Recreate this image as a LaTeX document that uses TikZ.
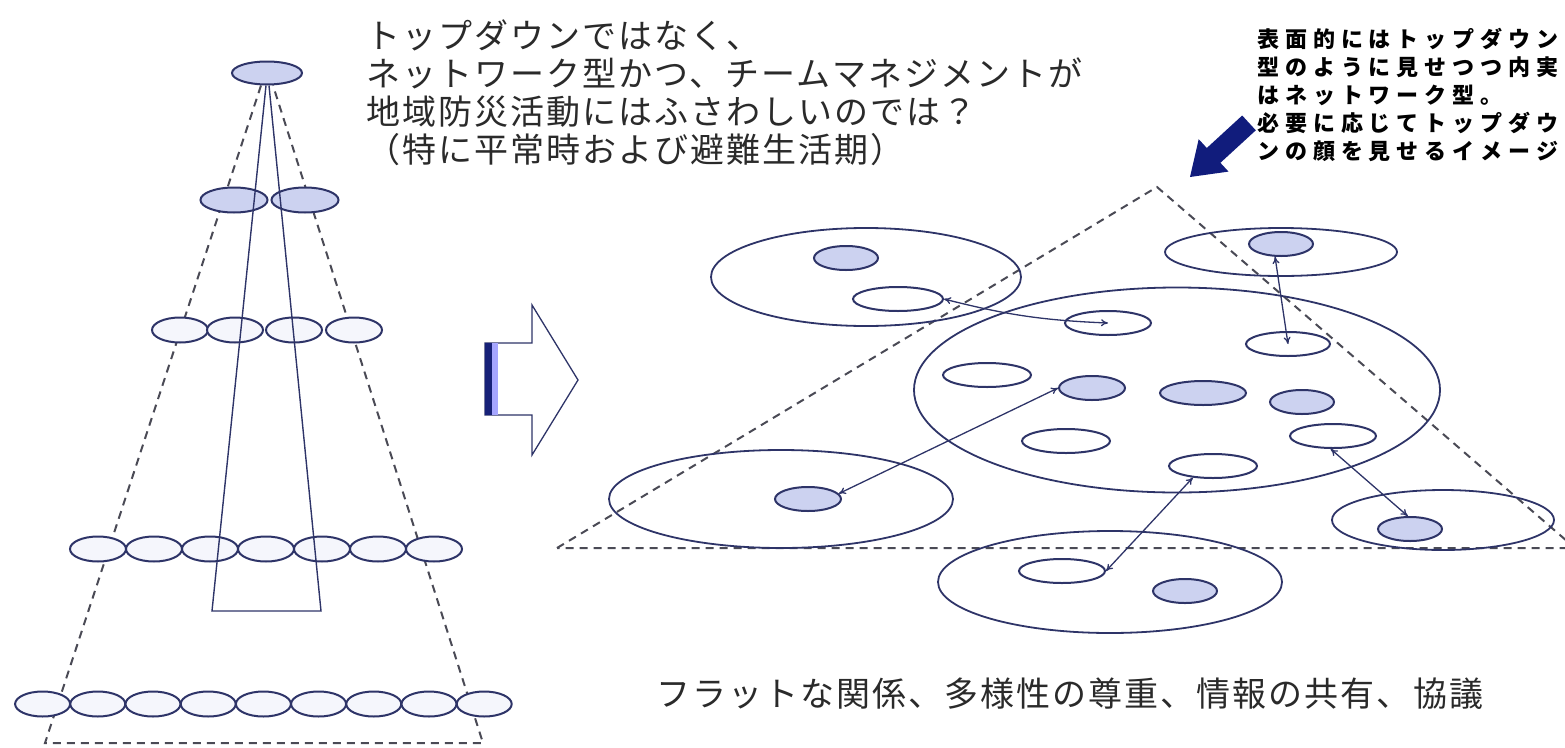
\documentclass[tikz,border=0pt]{standalone}
\usepackage{fontspec}
\usepackage{tikz}
\usetikzlibrary{positioning}
\usetikzlibrary{shapes,shapes.geometric,arrows.meta,backgrounds}
\newfontfamily\jpmain[LetterSpace=6]{Noto Sans CJK JP}
\newfontfamily\jpnote[LetterSpace=27]{Noto Sans CJK JP}
\definecolor{navy}{HTML}{2E3468}
\definecolor{paleblue}{HTML}{CCD2F0}
\definecolor{palewhite}{HTML}{F5F6FC}
\definecolor{dashgray}{HTML}{4A4A55}
\definecolor{inkblue}{HTML}{111C7C}
\definecolor{textgray}{HTML}{2A2A2A}
\tikzstyle{leader} = [ellipse, draw=navy, line width=2pt, fill=paleblue, inner sep=0pt]
\tikzstyle{member} = [ellipse, draw=navy, line width=2pt, fill=palewhite, inner sep=0pt, minimum width=56pt, minimum height=25pt]
\tikzstyle{group}  = [ellipse, draw=navy, line width=1.8pt, inner sep=0pt]
\tikzstyle{person} = [ellipse, draw=navy, line width=2pt, fill=white, inner sep=0pt, minimum height=24pt]
\tikzstyle{face}   = [ellipse, draw=navy, line width=2pt, fill=paleblue, inner sep=0pt, minimum height=24pt]
\tikzstyle{guide}  = [draw=dashgray, line width=2pt, dash pattern=on 8pt off 6pt]
\tikzstyle{stem}   = [draw=navy, line width=1.4pt]
\tikzstyle{link}   = [draw=navy, line width=1.3pt, {To[length=7pt,width=7pt]}-{To[length=7pt,width=7pt]}]

\begin{document}
\begin{tikzpicture}[x=1pt, y=-1pt]
	\useasboundingbox (0,0) rectangle (1565,747);

	% hierarchy on the left
	\node [leader, minimum width=70pt, minimum height=23pt] (top) at (267,73) {};
	\node [leader, minimum width=67pt, minimum height=25pt] (sub1) at (234,200) {};
	\node [leader, minimum width=67pt, minimum height=25pt] (sub2) at (305,200) {};
	\foreach \x [count=\i] in {180,235,294,354}
		\node [member] (r3-\i) at (\x,330) {};
	\foreach \i in {0,...,6}
		\node [member] (r4-\i) at ({98+56*\i},549) {};
	\foreach \i in {0,...,8}
		\node [member, minimum width=55pt] (r5-\i) at ({42.6+55.2*\i},704) {};

	\coordinate (baseL) at (45,743);
	\coordinate (baseR) at (483,743);
	\coordinate (footL) at (212,611);
	\coordinate (footR) at (321,611);

	\begin{scope}[on background layer]
		\path [guide] ([xshift=-6pt]top.south) -- (baseL) -- (baseR) -- ([xshift=6pt]top.south);
	\end{scope}
	\path [stem] ([xshift=-1pt]top.south) -- (footL) -- (footR) -- ([xshift=2pt]top.south);

	% block arrow
	\fill [white, draw=navy, line width=1.3pt] (485,343) -- (532,343) -- (532,305) -- (578,380)
		-- (532,455) -- (532,415) -- (485,415) -- cycle;
	\fill [inkblue!80!navy] (485,343) rectangle (492,415);
	\fill [blue!35] (492,343) rectangle (498,415);

	% network on the right
	\coordinate (triL) at (557,548);
	\coordinate (triT) at (1157,187);
	\coordinate (triR) at (1575,548);
	\path [guide] (triL) -- (triT) -- (triR) -- cycle;

	\node [group, minimum width=310pt, minimum height=98pt]  (gTL) at (866,277) {};
	\node [group, minimum width=232pt, minimum height=48pt]  (gTR) at (1281,252) {};
	\node [group, minimum width=526pt, minimum height=205pt] (gC)  at (1177,390) {};
	\node [group, minimum width=344pt, minimum height=98pt]  (gBL) at (781,499) {};
	\node [group, minimum width=344pt, minimum height=102pt] (gB)  at (1110,582) {};
	\node [group, minimum width=222pt, minimum height=60pt]  (gBR) at (1443,520) {};

	\node [face, minimum width=64pt]   (tl1) at (846,258) {};
	\node [person, minimum width=90pt] (tl2) at (898,299) {};
	\node [face, minimum width=64pt]   (tr1) at (1281,244) {};

	\node [person, minimum width=86pt] (c1) at (1108,323) {};
	\node [person, minimum width=84pt] (c2) at (1288,344) {};
	\node [person, minimum width=88pt] (c3) at (987,375) {};
	\node [face, minimum width=66pt]   (c4) at (1092,388) {};
	\node [face, minimum width=86pt]   (c5) at (1203,393) {};
	\node [face, minimum width=64pt]   (c6) at (1302,402) {};
	\node [person, minimum width=88pt] (c7) at (1066,441) {};
	\node [person, minimum width=86pt] (c8) at (1333,436) {};
	\node [person, minimum width=88pt] (c9) at (1213,466) {};

	\node [face, minimum width=66pt]   (bl1) at (808,499) {};
	\node [person, minimum width=86pt] (b1)  at (1062,571) {};
	\node [face, minimum width=64pt]   (b2)  at (1185,591) {};
	\node [face, minimum width=64pt]   (br1) at (1410,529) {};

	% links between teams
	\path [link] (tl2.east) to[bend right=6] (c1.center);
	\path [link] (tr1.-115) -- (c2.center);
	\path [link] (c4.180) -- (bl1.10);
	\path [link] (c9.-150) -- (b1.east);
	\path [link] (c8.-100) -- (br1.100);

	% pointer arrow
	\fill [inkblue] (1190,177) -- (1228.5,171.6) -- (1220.4,162.8) -- (1255.8,130.3)
		-- (1242.2,115.5) -- (1206.8,148.0) -- (1198.7,139.2) -- cycle;

	% texts
	\node [anchor=north west, align=left, inner sep=0pt, text=textgray,
		font=\jpmain\fontsize{34}{38}\selectfont] (lead) at (366,20)
		{トップダウンではなく、\\ネットワーク型かつ、チームマネジメントが\\地域防災活動にはふさわしいのでは？\\（特に平常時および避難生活期）};
	\node [anchor=north west, align=left, inner sep=0pt, text=black,
		font=\jpnote\bfseries\fontsize{22}{28}\selectfont] (note) at (1257,28)
		{表面的にはトップダウン\\型のように見せつつ内実\\はネットワーク型。\\必要に応じてトップダウ\\ンの顔を見せるイメージ};
	\node [anchor=west, inner sep=0pt, text=textgray,
		font=\jpmain\fontsize{34}{38}\selectfont] (motto) at (656,694)
		{フラットな関係、多様性の尊重、情報の共有、協議};
\end{tikzpicture}
\end{document}
